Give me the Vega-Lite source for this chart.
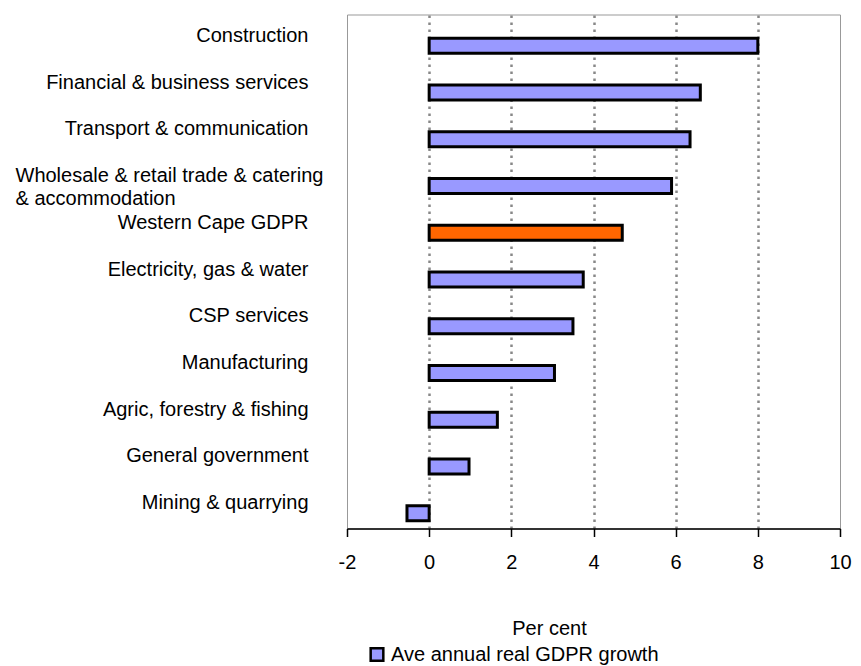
{
  "$schema": "https://vega.github.io/schema/vega-lite/v6.json",
  "autosize": {"type": "none"},
  "padding": {"left": 347, "top": 14.5, "right": 21, "bottom": 138},
  "width": 493,
  "height": 514,
  "background": "white",
  "config": {
    "font": "Liberation Sans",
    "view": {"stroke": "#999999", "strokeWidth": 1}
  },
  "data": {
    "values": [
      {"sector": "Construction", "growth": 8.0, "series": "Ave annual real GDPR growth"},
      {"sector": "Financial & business services", "growth": 6.6, "series": "Ave annual real GDPR growth"},
      {"sector": "Transport & communication", "growth": 6.35, "series": "Ave annual real GDPR growth"},
      {"sector": "Wholesale & retail trade & catering\n& accommodation", "growth": 5.9, "series": "Ave annual real GDPR growth"},
      {"sector": "Western Cape GDPR", "growth": 4.7, "series": "Ave annual real GDPR growth"},
      {"sector": "Electricity, gas & water", "growth": 3.75, "series": "Ave annual real GDPR growth"},
      {"sector": "CSP services", "growth": 3.5, "series": "Ave annual real GDPR growth"},
      {"sector": "Manufacturing", "growth": 3.05, "series": "Ave annual real GDPR growth"},
      {"sector": "Agric, forestry & fishing", "growth": 1.66, "series": "Ave annual real GDPR growth"},
      {"sector": "General government", "growth": 0.97, "series": "Ave annual real GDPR growth"},
      {"sector": "Mining & quarrying", "growth": -0.54, "series": "Ave annual real GDPR growth"}
    ]
  },
  "mark": {"type": "bar", "height": 15, "yOffset": 8, "stroke": "black", "strokeWidth": 3},
  "encoding": {
    "y": {
      "field": "sector",
      "type": "nominal",
      "sort": null,
      "scale": {"paddingInner": 0, "paddingOuter": 0},
      "axis": {
        "title": null,
        "domain": false,
        "ticks": false,
        "grid": false,
        "labelFont": "Liberation Sans",
        "labelFontSize": 20,
        "labelColor": "black",
        "labelLimit": 400,
        "labelLineHeight": 23,
        "labelOffset": -2,
        "labelExpr": "split(datum.label, '\\n')",
        "labelAlign": {"condition": {"test": "indexof(datum.label, 'Wholesale') >= 0", "value": "left"}, "value": "right"},
        "labelPadding": {"condition": {"test": "indexof(datum.label, 'Wholesale') >= 0", "value": 332}, "value": 39}
      }
    },
    "x": {
      "field": "growth",
      "type": "quantitative",
      "scale": {"domain": [-2, 10], "nice": false, "zero": false},
      "axis": {
        "title": "Per cent",
        "titleFont": "Liberation Sans",
        "titleFontSize": 20,
        "titleFontWeight": "normal",
        "titleColor": "black",
        "titleX": 202,
        "titleY": 100,
        "titleAlign": "center",
        "titleBaseline": "middle",
        "values": [-2, 0, 2, 4, 6, 8, 10],
        "labelExpr": "toString(datum.value)",
        "labelFont": "Liberation Sans",
        "labelFontSize": 20,
        "labelColor": "black",
        "labelPadding": 16,
        "labelFlush": false,
        "labelOverlap": false,
        "domainColor": "black",
        "domainWidth": 1.5,
        "tickColor": "black",
        "tickSize": 8,
        "tickWidth": 1.5,
        "grid": true,
        "gridColor": "#888888",
        "gridWidth": 2.5,
        "gridDash": [2.5, 4.5],
        "gridOpacity": {"condition": {"test": "datum.value === -2 || datum.value === 10", "value": 0}, "value": 1}
      }
    },
    "fill": {
      "condition": {"test": "datum.sector === 'Western Cape GDPR'", "value": "#FF6600"},
      "field": "series",
      "type": "nominal",
      "scale": {"range": ["#9999FF"]},
      "legend": {
        "title": null,
        "orient": "none",
        "legendX": 20,
        "legendY": 630,
        "symbolType": "square",
        "symbolSize": 160,
        "symbolStrokeColor": "black",
        "symbolStrokeWidth": 2.5,
        "symbolOffset": 0,
        "labelFont": "Liberation Sans",
        "labelFontSize": 20,
        "labelColor": "black",
        "labelOffset": 4,
        "labelLimit": 400
      }
    }
  }
}
